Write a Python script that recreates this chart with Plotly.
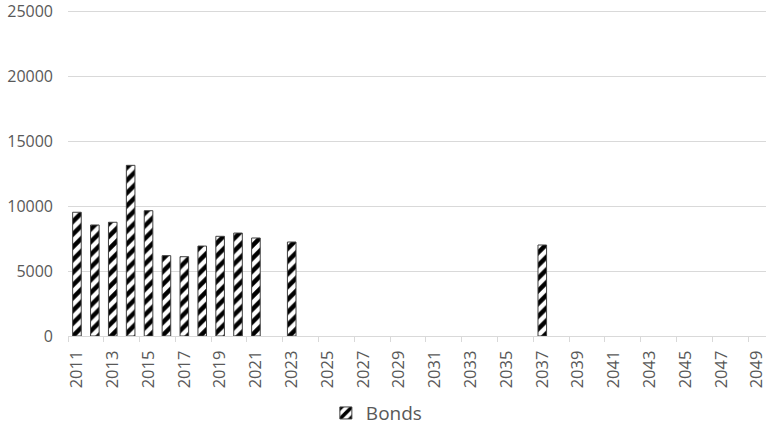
import plotly.graph_objects as go

# Annual amounts by year (None = no issue that year)
years = [str(y) for y in range(2011, 2050)]
bond_values = {
    2011: 9520, 2012: 8540, 2013: 8750, 2014: 13130, 2015: 9640,
    2016: 6180, 2017: 6100, 2018: 6920, 2019: 7670, 2020: 7920,
    2021: 7540, 2023: 7230, 2037: 7000,
}
values = [bond_values.get(int(y)) for y in years]

y_ticks = [0, 5000, 10000, 15000, 20000, 25000]

FONT = "Open Sans"
GREY = "#595959"
GRID = "#d9d9d9"

fig = go.Figure(
    go.Bar(
        x=years,
        y=values,
        name="Bonds",
        marker=dict(
            color="white",
            line=dict(color="#404040", width=1),
            pattern=dict(shape="/", fgcolor="black", bgcolor="white",
                         size=9, solidity=0.5, fillmode="replace"),
        ),
        showlegend=True,
    )
)

fig.update_layout(
    width=766,
    height=425,
    margin=dict(l=68, r=0, t=10, b=89, autoexpand=False),
    paper_bgcolor="white",
    plot_bgcolor="white",
    bargap=0.52,
    font=dict(family=FONT, color=GREY, size=16),
    legend=dict(
        orientation="h",
        xref="container",
        x=0.492,
        xanchor="center",
        yref="container",
        y=0.028,
        yanchor="middle",
        font=dict(size=19, color=GREY),
        itemwidth=30,
    ),
    xaxis=dict(
        type="category",
        categoryorder="array",
        categoryarray=years,
        tickangle=-90,
        dtick=2,
        tickson="boundaries",
        ticks="outside",
        ticklen=5,
        tickcolor=GRID,
        showline=True,
        linecolor=GRID,
        linewidth=1,
        showgrid=False,
        automargin=False,
        ticklabelstandoff=7,
        tickfont=dict(size=16.5, color=GREY),
    ),
    yaxis=dict(
        range=[0, 25080],
        tickvals=y_ticks,
        ticktext=[str(v) for v in y_ticks],
        showgrid=True,
        gridcolor=GRID,
        gridwidth=1,
        zeroline=False,
        showline=False,
        ticks="",
        automargin=False,
        ticklabeloverflow="allow",
        ticklabelstandoff=14,
        tickfont=dict(size=16, color=GREY),
    ),
)

fig.write_html("out.html")
